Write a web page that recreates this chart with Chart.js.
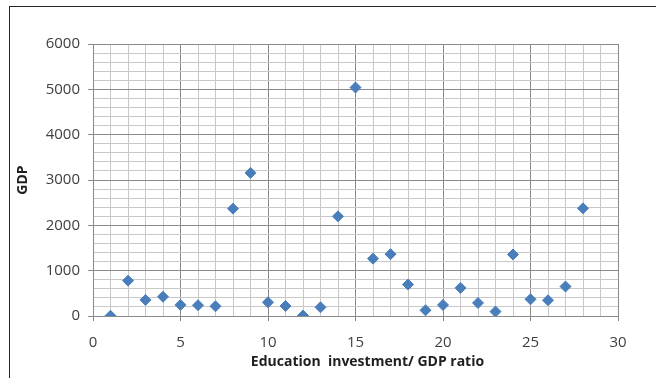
<!DOCTYPE html>
<html>
<head>
<meta charset="utf-8">
<script src="https://cdn.jsdelivr.net/npm/chart.js@4.4.1/dist/chart.umd.min.js"></script>
<style>
  html, body { margin: 0; padding: 0; background: #ffffff; overflow: hidden; }
  #wrap { position: relative; width: 656px; height: 378px; }
  #wrap canvas { position: absolute; left: 0; top: 0; }
  #frame { position: absolute; left: 9px; top: 6px; width: 700px; height: 400px;
           border-left: 1.5px solid #262626; border-top: 1.5px solid #262626; pointer-events: none; }
</style>
</head>
<body>
<div id="wrap">
  <canvas id="chart" width="656" height="378"></canvas>
  <div id="frame"></div>
</div>
<script>
// Education investment / GDP ratio (x) against GDP (y)
const ratio = [1, 2, 3, 4, 5, 6, 7, 8, 9, 10, 11, 12, 13, 14, 15, 16, 17, 18, 19, 20, 21, 22, 23, 24, 25, 26, 27, 28];
const gdp = [5, 780, 355, 425, 245, 238, 215, 2368, 3157, 302, 220, 10, 192, 2198, 5040, 1265, 1364, 694, 126, 243, 620, 288, 97, 1357, 369, 348, 650, 2375];
const xTickLabels = [0, 5, 10, 15, 20, 25, 30];
const yTickLabels = [0, 1000, 2000, 3000, 4000, 5000, 6000];
const xTitle = 'Education  investment/ GDP ratio';
const yTitle = 'GDP';

const MAJOR = '#8a8a8a';
const MINOR = '#c8c8c8';
const TICK_FONT = { family: '"Open Sans", "DejaVu Sans", sans-serif', size: 15 };
const TITLE_FONT = 'bold 14px "Open Sans", "DejaVu Sans", sans-serif';

const points = ratio.map((x, i) => ({ x: x, y: gdp[i] }));

// Axis titles, placed from the chart area
const axisTitles = {
  id: 'axisTitles',
  afterDraw(chart) {
    const { ctx, chartArea } = chart;
    ctx.save();
    ctx.fillStyle = '#1f1f1f';
    ctx.font = TITLE_FONT;
    ctx.textAlign = 'center';
    ctx.textBaseline = 'middle';
    ctx.fillText(xTitle, (chartArea.left + chartArea.right) / 2 + 12, chartArea.bottom + 46);
    ctx.translate(23, (chartArea.top + chartArea.bottom) / 2);
    ctx.rotate(-Math.PI / 2);
    ctx.fillText(yTitle, 0, 0);
    ctx.restore();
  }
};

new Chart(document.getElementById('chart'), {
  type: 'scatter',
  data: {
    datasets: [{
      data: points,
      pointStyle: 'rectRot',
      pointRadius: 5.5,
      pointHoverRadius: 5.5,
      backgroundColor: '#4a7ebb',
      borderColor: '#4a7ebb',
      borderWidth: 1
    }]
  },
  options: {
    responsive: false,
    animation: false,
    events: [],
    layout: { padding: { top: 44, right: 38, left: 0, bottom: 0 } },
    plugins: { legend: { display: false }, tooltip: { enabled: false } },
    scales: {
      x: {
        type: 'linear',
        min: xTickLabels[0],
        max: xTickLabels[xTickLabels.length - 1],
        afterFit(scale) { scale.height = 62; },
        border: { color: MAJOR, width: 1 },
        grid: {
          color: c => (xTickLabels.includes(c.tick.value) ? MAJOR : MINOR),
          tickColor: c => (xTickLabels.includes(c.tick.value) ? MAJOR : 'rgba(0,0,0,0)'),
          tickLength: 5,
          lineWidth: 1
        },
        ticks: {
          stepSize: 1,
          autoSkip: false,
          maxRotation: 0,
          padding: 13,
          color: '#404040',
          font: TICK_FONT,
          callback: v => (xTickLabels.includes(v) ? String(v) : '')
        }
      },
      y: {
        type: 'linear',
        min: yTickLabels[0],
        max: yTickLabels[yTickLabels.length - 1],
        afterFit(scale) { scale.width = 93; },
        border: { color: MAJOR, width: 1 },
        grid: {
          color: c => (yTickLabels.includes(c.tick.value) ? MAJOR : MINOR),
          tickColor: c => (yTickLabels.includes(c.tick.value) ? MAJOR : 'rgba(0,0,0,0)'),
          tickLength: 5,
          lineWidth: 1
        },
        ticks: {
          stepSize: 200,
          autoSkip: false,
          padding: 8,
          color: '#404040',
          font: TICK_FONT,
          callback: v => (yTickLabels.includes(v) ? String(v) : '')
        }
      }
    }
  },
  plugins: [axisTitles]
});
</script>
</body>
</html>
